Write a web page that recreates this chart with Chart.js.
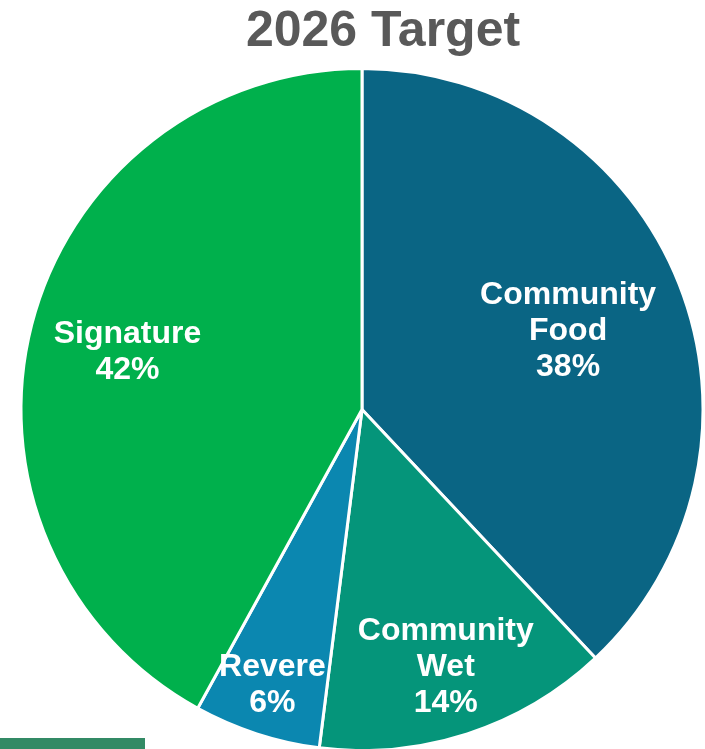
<!DOCTYPE html>
<html>
<head>
<meta charset="utf-8">
<script src="https://cdn.jsdelivr.net/npm/chart.js@4"></script>
<style>
  body { margin: 0; background: #fff; }
  #wrap { position: relative; width: 705px; height: 749px; overflow: hidden; }
  #title {
    position: absolute; left: 0; width: 766px; top: 0;
    text-align: center; font: bold 50px "Liberation Sans", Arial, sans-serif;
    color: #595959; line-height: 58px;
  }
  #bar { position: absolute; left: 0; top: 738px; width: 145px; height: 11px; background: #338a65; }
</style>
</head>
<body>
<div id="wrap">
  <canvas id="pie" width="705" height="749"></canvas>
  <div id="title">2026 Target</div>
  <div id="bar"></div>
</div>
<script>
'use strict';

let categories = ['Community Food', 'Community Wet', 'Revere', 'Signature'];
let labelLines = [['Community', 'Food'], ['Community', 'Wet'], ['Revere'], ['Signature']];
let shares = [38, 14, 6, 42];
let sliceColors = ['#0a6584', '#05957a', '#0b87b0', '#00b04c'];
// how far out each label sits, as part of the radius, plus a small vertical nudge
let labelRadius = [0.65, 0.795, 0.85, 0.71];
let labelNudge = [3, 0, 0, 3];

let sliceLabels = {
  id: 'sliceLabels',
  afterDatasetsDraw(chart) {
    let ctx = chart.ctx;
    let arcs = chart.getDatasetMeta(0).data;
    ctx.save();
    ctx.fillStyle = '#fff';
    ctx.font = 'bold 32px "Liberation Sans", Arial, sans-serif';
    ctx.textAlign = 'center';
    ctx.textBaseline = 'middle';
    for (let i = 0; i < arcs.length; i++) {
      let a = arcs[i];
      let mid = (a.startAngle + a.endAngle) / 2;
      let r = a.outerRadius * labelRadius[i];
      let x = a.x + Math.cos(mid) * r;
      let y = a.y + Math.sin(mid) * r + labelNudge[i];
      let lines = labelLines[i].concat([shares[i] + '%']);
      let lh = 36;
      let y0 = y - (lines.length - 1) * lh / 2;
      for (let j = 0; j < lines.length; j++) {
        ctx.fillText(lines[j], x, y0 + j * lh);
      }
    }
    ctx.restore();
  }
};

new Chart(document.getElementById('pie'), {
  type: 'pie',
  data: {
    labels: categories,
    datasets: [{
      data: shares,
      backgroundColor: sliceColors,
      borderColor: '#fff',
      borderWidth: 3,
      radius: 341
    }]
  },
  options: {
    responsive: false,
    animation: false,
    layout: { padding: { top: 70, left: 23, right: 4, bottom: 0 } },
    plugins: {
      legend: { display: false },
      tooltip: { enabled: false }
    }
  },
  plugins: [sliceLabels]
});
</script>
</body>
</html>
